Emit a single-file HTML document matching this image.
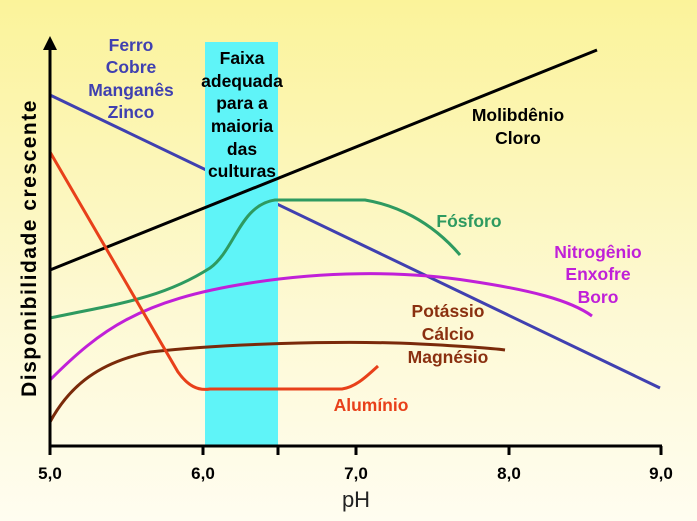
<!DOCTYPE html>
<html><head><style>
body{margin:0;width:697px;height:521px;overflow:hidden;background:linear-gradient(#fbf39a,#fdf9d4 60%,#fffdf0);}
svg{display:block;font-family:"Liberation Sans",sans-serif;}
</style></head><body>
<svg width="697" height="521" viewBox="0 0 697 521">
<line x1="50" y1="95" x2="660" y2="388" stroke="#4040b0" stroke-width="3"/>
<rect x="205" y="42" width="73" height="404" fill="#5ff4f8"/>
<g fill="none" stroke-width="3">
<line x1="50" y1="270" x2="597" y2="50" stroke="#000"/>
<path d="M50,318 C110,305 160,300 210,268 C235,250 240,205 275,200 L365,200 C395,205 430,220 460,255" stroke="#2e9a60"/>
<path d="M50,380 C100,330 140,300 250,283 C320,272 400,270 470,281 C530,290 570,300 592,316" stroke="#c020d8"/>
<path d="M50,422 C70,385 100,362 150,352 C220,344 340,340 420,344 C460,346 490,348 505,350" stroke="#7a2a0a"/>
<path d="M50,152 L178,372 C188,386 198,391 210,389 L342,389 C355,387 365,378 378,366" stroke="#e8401a"/>
</g>
<g stroke="#000" stroke-width="3">
<line x1="50" y1="446" x2="50" y2="50"/>
<line x1="48.5" y1="446" x2="662" y2="446"/>
<line x1="203" y1="446" x2="203" y2="455"/><line x1="278" y1="446" x2="278" y2="455"/>
<line x1="356" y1="446" x2="356" y2="455"/><line x1="509" y1="446" x2="509" y2="455"/><line x1="661" y1="446" x2="661" y2="455"/>
<line x1="50" y1="446" x2="50" y2="455"/>
</g>
<path d="M43,50 L50,36 L57,50 Z" fill="#000"/>
<g font-weight="bold" font-size="17" text-anchor="middle">
<text x="50" y="479">5,0</text><text x="203" y="479">6,0</text><text x="356" y="479">7,0</text><text x="509" y="479">8,0</text><text x="661" y="479">9,0</text>
</g>
<text x="356" y="507" font-size="22" text-anchor="middle" fill="#222">pH</text>
<text transform="translate(36,248) rotate(-90)" font-size="21" font-weight="bold" text-anchor="middle" letter-spacing="1.5">Disponibilidade crescente</text>
<g font-weight="bold" font-size="17.5" text-anchor="middle">
<g fill="#4040b0"><text x="131" y="51">Ferro</text><text x="131" y="73">Cobre</text><text x="131" y="96">Manganês</text><text x="131" y="118">Zinco</text></g>
<g fill="#000"><text x="242" y="64">Faixa</text><text x="242" y="87">adequada</text><text x="242" y="109">para a</text><text x="242" y="132">maioria</text><text x="242" y="155">das</text><text x="242" y="177">culturas</text>
<text x="518" y="121">Molibdênio</text><text x="518" y="144">Cloro</text></g>
<text x="469" y="227" fill="#2e9a60">Fósforo</text>
<g fill="#c020d8"><text x="598" y="258">Nitrogênio</text><text x="598" y="280">Enxofre</text><text x="598" y="303">Boro</text></g>
<g fill="#8a3010"><text x="448" y="317">Potássio</text><text x="448" y="340">Cálcio</text><text x="448" y="363">Magnésio</text></g>
<text x="371" y="411" fill="#e8401a">Alumínio</text>
</g>
</svg>
</body></html>
